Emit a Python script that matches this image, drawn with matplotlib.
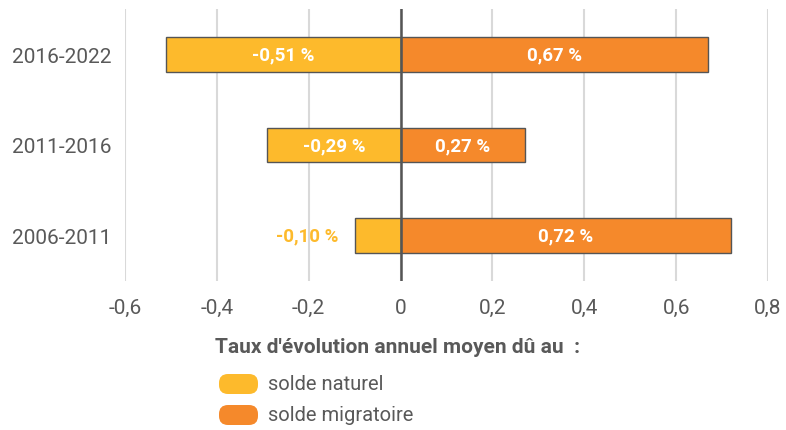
import matplotlib.pyplot as plt
from matplotlib.patches import FancyBboxPatch

plt.rcParams['font.family'] = ['Roboto', 'DejaVu Sans']

periods = ['2006-2011', '2011-2016', '2016-2022']
naturel = [-0.10, -0.29, -0.51]
migratoire = [0.72, 0.27, 0.67]
xticks = [-0.6, -0.4, -0.2, 0, 0.2, 0.4, 0.6, 0.8]

c_nat = '#FDBA2C'
c_mig = '#F5892B'
grey = '#595959'

fig = plt.figure(figsize=(7.86, 4.31), dpi=100)
ax = fig.add_axes([125 / 786, 1 - 282 / 431, 643 / 786, 272 / 431])

y = range(len(periods))
ax.barh(y, naturel, height=0.38, color=c_nat, edgecolor='#555555', linewidth=1, zorder=3)
ax.barh(y, migratoire, height=0.38, color=c_mig, edgecolor='#555555', linewidth=1, zorder=3)

def fmt(v):
    return f'{v:.2f}'.replace('.', ',') + ' %'

for i, (n, m) in enumerate(zip(naturel, migratoire)):
    if abs(n) < 0.2:
        ax.text(n - 0.035, i, fmt(n), ha='right', va='center', color=c_nat,
                fontsize=13.5, fontweight='bold', zorder=4)
    else:
        ax.text(n / 2, i, fmt(n), ha='center', va='center', color='white',
                fontsize=13.5, fontweight='bold', zorder=4)
    ax.text(m / 2, i, fmt(m), ha='center', va='center', color='white',
            fontsize=13.5, fontweight='bold', zorder=4)

ax.set_xlim(-0.6, 0.8)
ax.set_ylim(-0.5, 2.5)
ax.set_xticks(xticks)
ax.set_xticklabels([f'{t:g}'.replace('.', ',') for t in xticks])
ax.set_yticks(list(y))
ax.set_yticklabels(periods)
ax.tick_params(length=0, labelsize=15, labelcolor=grey)
ax.tick_params(axis='x', pad=12)
ax.tick_params(axis='y', pad=9.5)
for s in ax.spines.values():
    s.set_visible(False)
ax.grid(axis='x', color='#d9d9d9', linewidth=1.5, zorder=0)
ax.axvline(0, color='#555555', linewidth=1.8, zorder=5)

# legend
fig.text(215 / 786, 1 - 348 / 431, "Taux d'évolution annuel moyen dû au  :",
         fontsize=15, fontweight='bold', color=grey, va='center', ha='left')
for k, (lab, col) in enumerate([('solde naturel', c_nat), ('solde migratoire', c_mig)]):
    yc = 385 + k * 31
    fig.patches.append(FancyBboxPatch((2.19, (431 - yc - 10) / 100), 0.39, 0.20,
                                      boxstyle='round,pad=0,rounding_size=0.09',
                                      transform=fig.dpi_scale_trans, facecolor=col,
                                      edgecolor='none'))
    fig.text(268 / 786, 1 - yc / 431, lab, fontsize=14.5, color=grey, va='center', ha='left')

fig.savefig('out.png', dpi=100)
